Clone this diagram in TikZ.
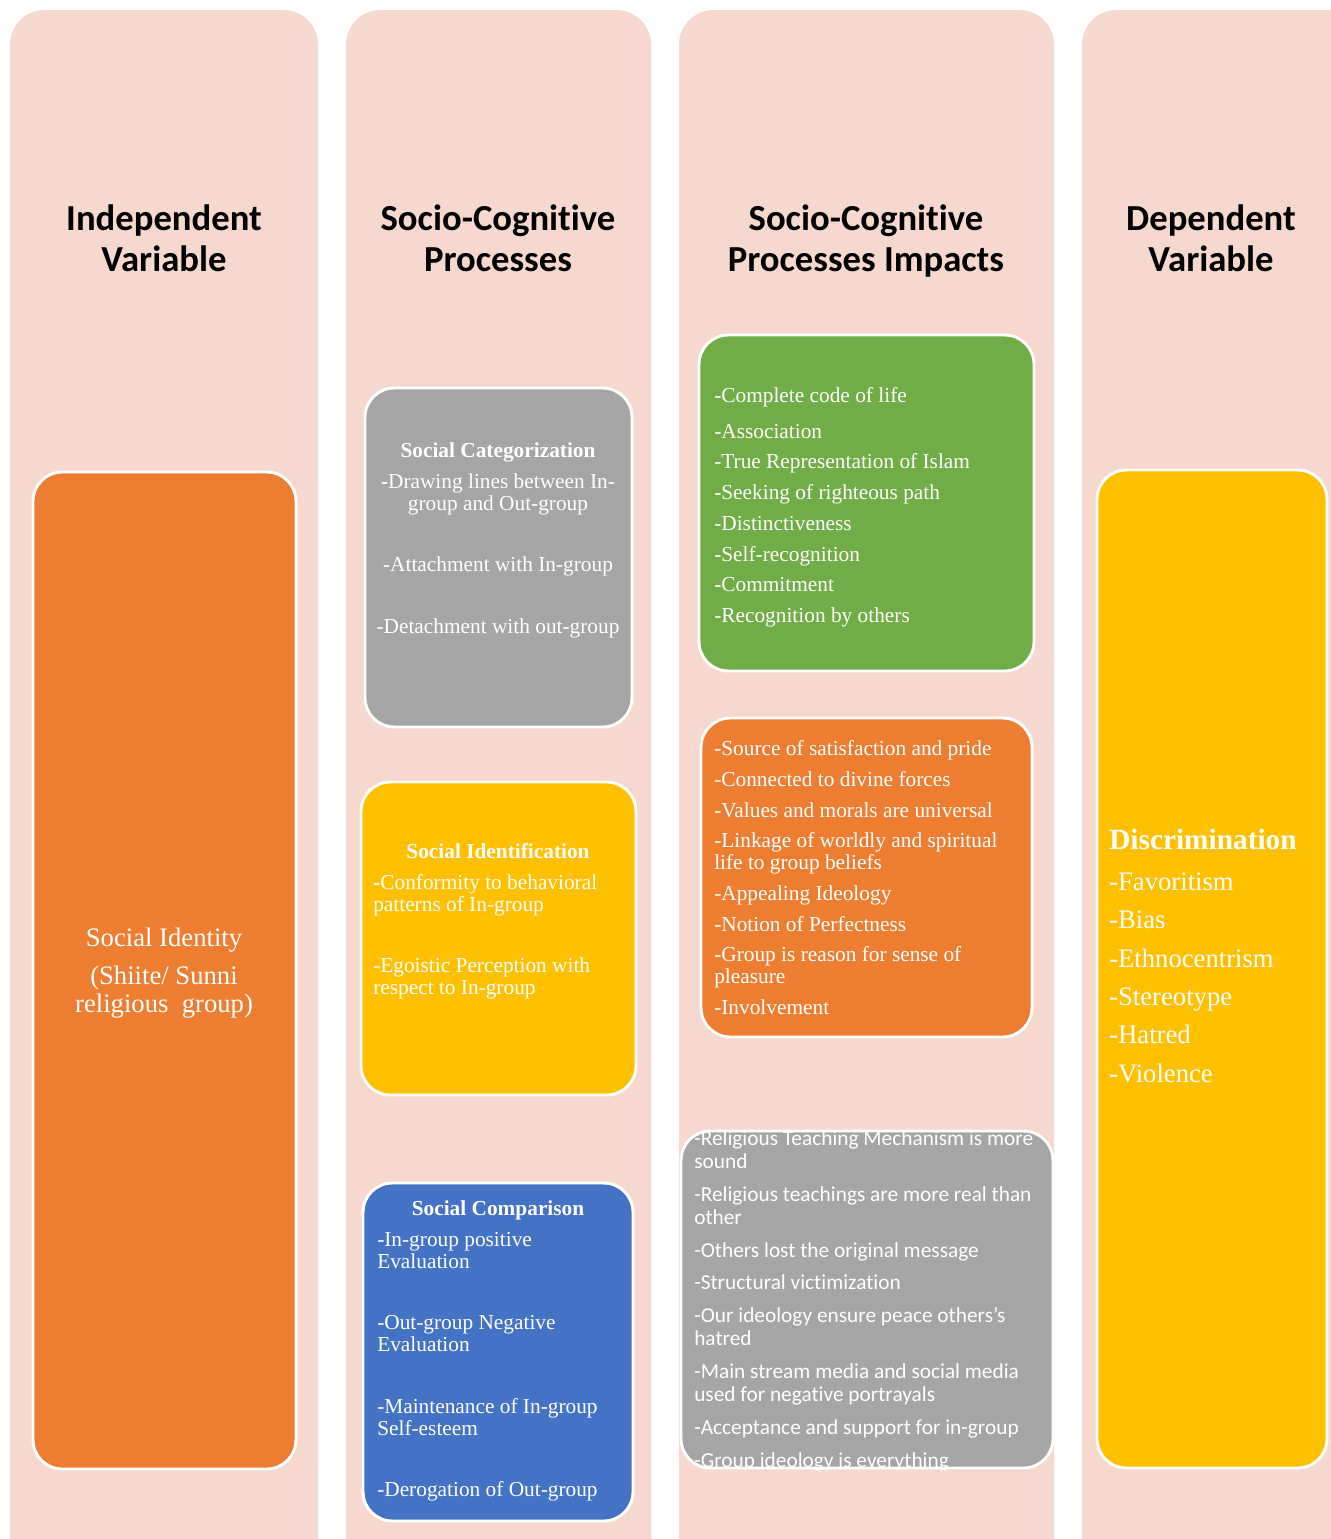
\documentclass[tikz,border=0pt]{standalone}
\usepackage{fontspec}
\setmainfont{Liberation Serif}
\newfontfamily\hdfont[Ligatures=NoCommon]{Carlito}
\definecolor{pinkbg}{HTML}{F7D8CE}
\definecolor{cOrange}{HTML}{ED7D31}
\definecolor{cGray}{HTML}{A5A5A5}
\definecolor{cYellow}{HTML}{FFC000}
\definecolor{cBlue}{HTML}{4472C4}
\definecolor{cGreen}{HTML}{70AD47}
\begin{document}
\begin{tikzpicture}[x=0.75pt,y=-0.75pt,
  colbg/.style={fill=pinkbg, rounded corners=26pt},
  card/.style={draw=white, line width=2.2pt, rounded corners=22pt, inner sep=0pt},
  ln/.style={anchor=west, inner sep=0pt, text height=0.75em, text depth=0.05em, text=white},
  lnc/.style={ln, anchor=center},
  body/.style={font=\fontsize{16}{19}\selectfont, yshift=-2.25pt},
  bodyb/.style={font=\fontsize{16}{19}\selectfont\bfseries, yshift=-2.25pt},
  big/.style={font=\fontsize{20}{24}\selectfont, yshift=-3.75pt},
  bigb/.style={font=\fontsize{22}{26}\selectfont\bfseries, yshift=-3.75pt},
  sans/.style={font=\hdfont\fontsize{16}{19}\selectfont, yshift=-2.25pt},
  head/.style={lnc, text=black, yshift=-6pt, font=\hdfont\bfseries\fontsize{27.5}{31}\selectfont}]
\useasboundingbox (0,0) rectangle (1331,1539);
\clip (0,0) rectangle (1331,1539);

% pink column panels
\path[colbg] (10,10) rectangle (318,1620);
\path[colbg] (346,10) rectangle (651,1620);
\path[colbg] (679,10) rectangle (1054,1620);
\path[colbg] (1082,10) rectangle (1420,1620);

% column headings
\node[head] (h1a) at (164,218) {Independent};
\node[head] (h1b) at (164,259) {Variable};
\node[head] (h2a) at (498,218) {Socio-Cognitive};
\node[head] (h2b) at (498,259) {Processes};
\node[head] (h3a) at (866,218) {Socio-Cognitive};
\node[head] (h3b) at (866,259) {Processes Impacts};
\node[head] (h4a) at (1211,218) {Dependent};
\node[head] (h4b) at (1211,259) {Variable};

% coloured cards
\node[card, fill=cOrange, minimum width=197.25pt, minimum height=747.75pt] (idv) at (164.5,970.5) {};
\node[card, fill=cGray, minimum width=200.25pt, minimum height=254.25pt] (scat) at (498.5,557.5) {};
\node[card, fill=cYellow, minimum width=206.25pt, minimum height=234.75pt] (sid) at (498.5,938.5) {};
\node[card, fill=cBlue, minimum width=202.5pt, minimum height=253.5pt] (scmp) at (498,1352) {};
\node[card, fill=cGreen, minimum width=251.25pt, minimum height=252pt] (grn) at (866.5,503) {};
\node[card, fill=cOrange, minimum width=248.25pt, minimum height=239.25pt] (org) at (866.5,877.5) {};
\node[card, draw=none, fill=cGray, minimum width=279pt, minimum height=252.75pt] (gry) at (867,1299.5) {};
\node[card, fill=cYellow, minimum width=172.5pt, minimum height=748.5pt] (dv) at (1212,969) {};

% independent variable
\node[lnc, big] (iv1) at (164,937) {Social Identity};
\node[lnc, big] (iv2) at (164,975) {(Shiite/ Sunni};
\node[lnc, big] (iv3) at (164,1003) {religious\ \ group)};

% social categorization
\node[lnc, bodyb] (sc0) at (498,450) {Social Categorization};
\foreach \yy/\tt [count=\i] in {481/{\textbf{-}Drawing lines between In-},503/group and Out-group,564/-Attachment with In-group,626/-Detachment with out-group}
  \node[lnc, body] (sc\i) at (498,\yy) {\tt};

% social identification
\node[lnc, bodyb] (si0) at (498,851) {Social Identification};
\foreach \yy/\tt [count=\i] in {882/-Conformity to behavioral,904/patterns of In-group,965/-Egoistic Perception with,987/respect to In-group}
  \node[ln, body] (si\i) at (373,\yy) {\tt};

% social comparison
\node[lnc, bodyb] (cp0) at (498,1208) {Social Comparison};
\foreach \yy/\tt [count=\i] in {1239/-In-group positive,1261/Evaluation,1322/-Out-group Negative,1344/Evaluation,1406/-Maintenance of In-group,1428/Self-esteem,1489/-Derogation of Out-group}
  \node[ln, body] (cp\i) at (377,\yy) {\tt};

% impacts: green card
\foreach \yy/\tt [count=\i] in {395/-Complete code of life,431/-Association,461/-True Representation of Islam,492/-Seeking of righteous path,523/-Distinctiveness,554/-Self-recognition,584/-Commitment,615/-Recognition by others}
  \node[ln, body] (gn\i) at (714,\yy) {\tt};

% impacts: orange card
\foreach \yy/\tt [count=\i] in {748/-Source of satisfaction and pride,779/-Connected to divine forces,810/-Values and morals are universal,840/-Linkage of worldly and spiritual,862/life to group beliefs,893/-Appealing Ideology,924/-Notion of Perfectness,954/-Group is reason for sense of,976/pleasure,1007/-Involvement}
  \node[ln, body] (or\i) at (714,\yy) {\tt};

% impacts: grey card (text runs under its border)
\foreach \yy/\tt [count=\i] in {1138/-Religious Teaching Mechanism is more,1161/sound,1194/-Religious teachings are more real than,1217/other,1250/-Others lost the original message,1282/-Structural victimization,1315/-Our ideology ensure peace others’s,1338/hatred,1371/-Main stream media and social media,1394/used for negative portrayals,1427/-Acceptance and support for in-group,1460/-Group ideology is everything}
  \node[ln, sans] (gy\i) at (694,\yy) {\tt};
\node[card, fill=none, minimum width=279pt, minimum height=252.75pt] (gryb) at (gry.center) {};

% dependent variable
\node[ln, bigb] (dv0) at (1109,840) {Discrimination};
\foreach \yy/\tt [count=\i] in {881/-Favoritism,919/-Bias,958/-Ethnocentrism,996/-Stereotype,1034/-Hatred,1073/-Violence}
  \node[ln, big] (dv\i) at (1109,\yy) {\tt};
\end{tikzpicture}
\end{document}
